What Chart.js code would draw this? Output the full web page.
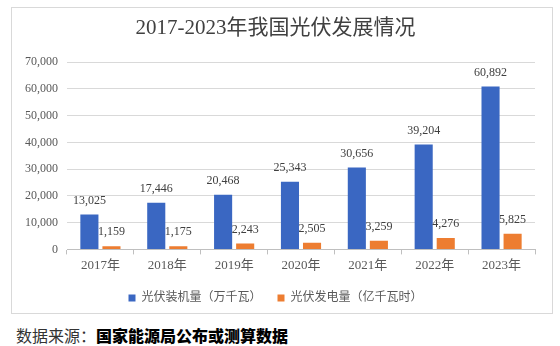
<!DOCTYPE html>
<html>
<head>
<meta charset="utf-8">
<script src="https://cdn.jsdelivr.net/npm/chart.js@4.4.1/dist/chart.umd.min.js"></script>
<style>
  html, body { margin: 0; padding: 0; background: #fff; }
  #frame {
    position: absolute; left: 11px; top: 7px;
    width: 540px; height: 305px;
    border: 1px solid #d9d9d9;
  }
  #chart { position: absolute; left: 0; top: 0; }
  #source {
    position: absolute; left: 16px; top: 325px;
    font-size: 16px; line-height: 20px; white-space: nowrap;
    font-family: "Liberation Serif", "Noto Sans CJK SC", serif;
    color: #333;
  }
  #source b { color: #000; font-family: "Noto Sans CJK SC", sans-serif; font-weight: 900; }
</style>
</head>
<body>
<div id="frame"><canvas id="chart" width="540" height="306"></canvas></div>
<div id="source">数据来源：<b>国家能源局公布或测算数据</b></div>
<script>
// Solar capacity and generation in China, 2017-2023
const years = ['2017年', '2018年', '2019年', '2020年', '2021年', '2022年', '2023年'];
const capacity = [13025, 17446, 20468, 25343, 30656, 39204, 60892];   // 万千瓦
const generation = [1159, 1175, 2243, 2505, 3259, 4276, 5825];       // 亿千瓦时
const seriesNames = ['光伏装机量（万千瓦）', '光伏发电量（亿千瓦时）'];

const serif = '"Liberation Serif", "Noto Sans CJK SC", serif';
const textGray = '#595959';

const fmt = v => v.toLocaleString('en-US');

// value labels above each bar
const barValuePlugin = {
  id: 'barValuePlugin',
  afterDatasetsDraw(chart) {
    const { ctx } = chart;
    chart.data.datasets.forEach((dataset, i) => {
      chart.getDatasetMeta(i).data.forEach((bar, index) => {
        ctx.save();
        ctx.fillStyle = '#404040';
        ctx.font = '12px ' + serif;
        ctx.textAlign = 'center';
        ctx.textBaseline = 'bottom';
        ctx.fillText(fmt(dataset.data[index]), bar.x, bar.y - 8);
        ctx.restore();
      });
    });
  }
};

new Chart(document.getElementById('chart'), {
  type: 'bar',
  data: {
    labels: years,
    datasets: [
      { label: seriesNames[0], data: capacity, backgroundColor: '#3a67c2' },
      { label: seriesNames[1], data: generation, backgroundColor: '#ed7d31' }
    ]
  },
  options: {
    responsive: false,
    animation: false,
    layout: { padding: { left: 4, right: 17, top: 8, bottom: 0 } },
    datasets: { bar: { categoryPercentage: 0.66, barPercentage: 0.82 } },
    plugins: {
      title: {
        display: true,
        text: '2017-2023年我国光伏发展情况',
        color: '#404040',
        font: { family: serif, size: 21, weight: 'normal' },
        padding: { top: 0, bottom: 21 }
      },
      legend: {
        position: 'bottom',
        labels: {
          color: textGray,
          font: { family: serif, size: 12 },
          boxWidth: 7, boxHeight: 7,
          padding: 16
        }
      },
      tooltip: { enabled: false }
    },
    scales: {
      x: {
        grid: { display: true, drawOnChartArea: false, drawTicks: true, tickLength: 5, color: '#bfbfbf' },
        border: { display: true, color: '#bfbfbf' },
        ticks: { color: textGray, font: { family: serif, size: 13 }, padding: 3 }
      },
      y: {
        min: 0, max: 70000,
        grid: { color: '#d9d9d9', drawTicks: false },
        border: { display: false },
        ticks: { stepSize: 10000, color: textGray, font: { family: serif, size: 12 }, padding: 9, callback: v => fmt(v) }
      }
    }
  },
  plugins: [barValuePlugin]
});
</script>
</body>
</html>
